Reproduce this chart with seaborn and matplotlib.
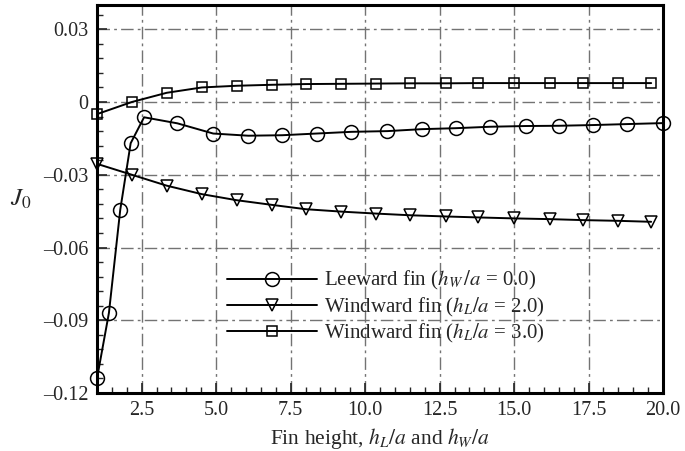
import numpy as np
import pandas as pd
import matplotlib
matplotlib.use("Agg")
import matplotlib.pyplot as plt
import seaborn as sns
from matplotlib.ticker import MultipleLocator, FixedLocator

# ---- data ----
lee_x = [1.0, 1.4, 1.78, 2.13, 2.58, 3.7, 4.9, 6.08, 7.22, 8.37, 9.54, 10.75,
         11.9, 13.04, 14.2, 15.4, 16.5, 17.66, 18.8, 20.0]
lee_y = [-0.114, -0.087, -0.0445, -0.017, -0.0063, -0.0088, -0.0130, -0.0139,
         -0.0137, -0.0130, -0.0123, -0.0120, -0.0112, -0.0108, -0.0102, -0.0099,
         -0.0098, -0.0095, -0.0091, -0.0087]

wind_x = [1.0, 2.17, 3.34, 4.52, 5.69, 6.86, 8.0, 9.2, 10.35, 11.5, 12.7, 13.8,
          15.0, 16.2, 17.3, 18.5, 19.6]
wind2_y = [-0.0255, -0.0300, -0.0345, -0.0380, -0.0405, -0.0424, -0.0442, -0.0452,
           -0.0460, -0.0467, -0.0472, -0.0476, -0.0480, -0.0483, -0.0487, -0.0490,
           -0.0494]
wind3_y = [-0.0050, 0.0000, 0.0038, 0.0060, 0.0067, 0.0071, 0.0074, 0.0075,
           0.0076, 0.0077, 0.0077, 0.0078, 0.0078, 0.0078, 0.0078, 0.0078, 0.0078]

labels = [r"Leeward fin ($h_W\,/a$ = 0.0)",
          r"Windward fin ($h_L/a$ = 2.0)",
          r"Windward fin ($h_L/a$ = 3.0)"]

x_ticks = [2.5, 5.0, 7.5, 10.0, 12.5, 15.0, 17.5, 20.0]
x_ticklabels = ["2.5", "5.0", "7.5", "10.0", "12.5", "15.0", "17.5", "20.0"]
y_ticks = [-0.12, -0.09, -0.06, -0.03, 0.0, 0.03]
y_ticklabels = ["\u20130.12", "\u20130.09", "\u20130.06", "\u20130.03", "0", "0.03"]

# ---- style ----
sns.set_style("ticks")
plt.rcParams["font.family"] = ["Liberation Serif", "DejaVu Serif"]
plt.rcParams["mathtext.fontset"] = "stix"
FS = 14.5
plt.rcParams["font.size"] = FS

fig = plt.figure(figsize=(6.85, 4.51), dpi=100)
ax = fig.add_axes([0.1416, 0.1286, 0.8264, 0.8603])

df_lee = pd.DataFrame({"x": lee_x, "y": lee_y})
df_w2 = pd.DataFrame({"x": wind_x, "y": wind2_y})
df_w3 = pd.DataFrame({"x": wind_x, "y": wind3_y})

common = dict(color="black", linewidth=1.4, markerfacecolor="none",
              markeredgecolor="black", markeredgewidth=1.1, sort=False,
              estimator=None, ax=ax, clip_on=False)
sns.lineplot(data=df_lee, x="x", y="y", marker="o", markersize=10, label=labels[0], **common)
sns.lineplot(data=df_w2, x="x", y="y", marker="v", markersize=8, label=labels[1], **common)
sns.lineplot(data=df_w3, x="x", y="y", marker="s", markersize=7, label=labels[2], **common)

ax.set_xlim(1.0, 20.0)
ax.set_ylim(-0.12, 0.04)

ax.xaxis.set_major_locator(FixedLocator(x_ticks))
ax.set_xticklabels(x_ticklabels)
ax.yaxis.set_major_locator(FixedLocator(y_ticks))
ax.set_yticklabels(y_ticklabels)
ax.xaxis.set_minor_locator(MultipleLocator(0.5))
ax.yaxis.set_minor_locator(MultipleLocator(0.006))

ax.tick_params(which="major", direction="in", length=7, width=1.2, labelsize=FS,
               top=False, right=False, pad=6)
ax.tick_params(which="minor", direction="in", length=4, width=1.0, top=False, right=False)

ax.grid(True, which="major", color="0.45", linewidth=1.0, linestyle=(0, (9, 3, 2, 3)))

for s in ax.spines.values():
    s.set_linewidth(2.2)
    s.set_color("black")
    s.set_zorder(5)

ax.set_xlabel(r"Fin height, $h_L/a$ and $h_W/a$", fontsize=15.5, labelpad=4)
ax.set_ylabel(r"$J_0$", fontsize=18, rotation=0)
ax.yaxis.set_label_coords(-0.135, 0.47)

leg = ax.legend(loc="upper left", bbox_to_anchor=(0.215, 0.34), frameon=False,
                handlelength=4.3, labelspacing=0.15, handletextpad=0.35,
                borderaxespad=0, fontsize=15)

fig.savefig("out.png", dpi=100)
